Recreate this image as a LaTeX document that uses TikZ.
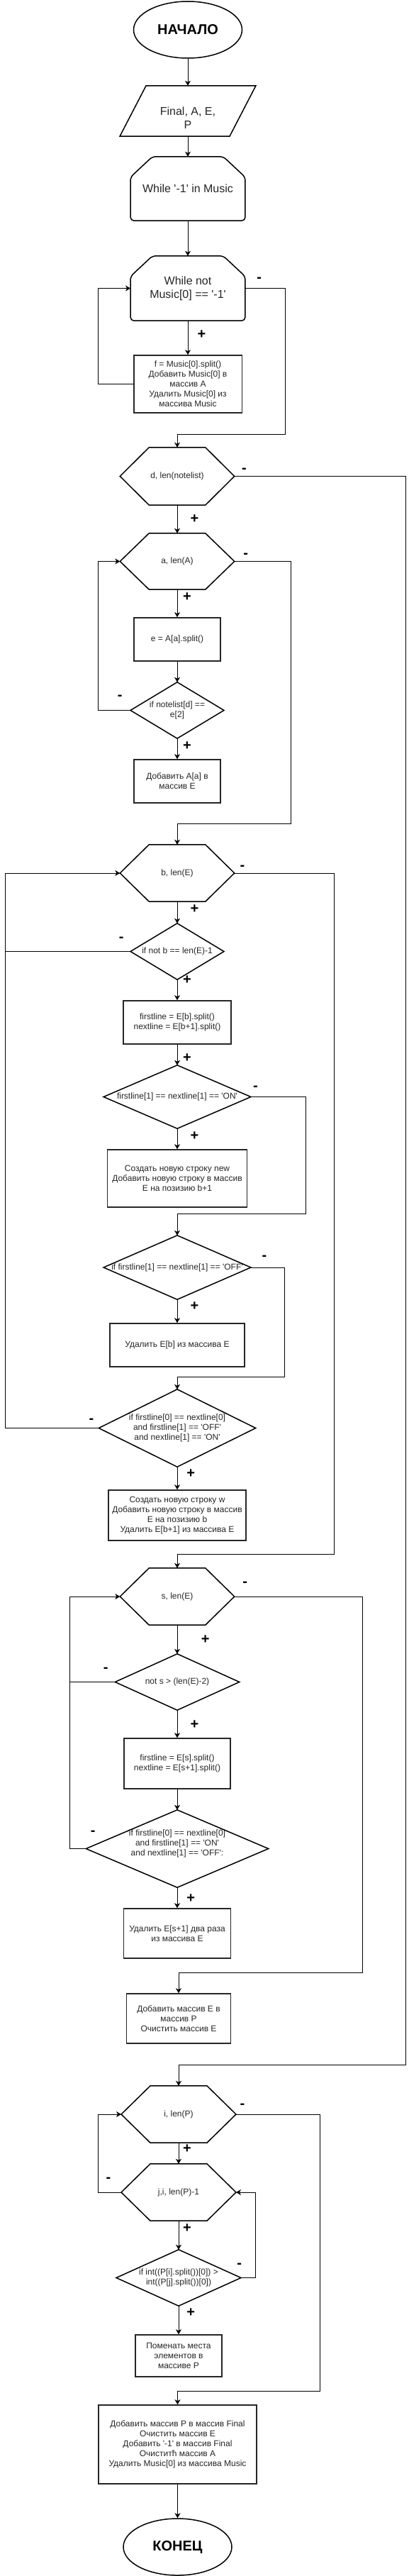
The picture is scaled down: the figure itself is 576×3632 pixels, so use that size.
\documentclass[tikz,border=0pt]{standalone}
\usepackage{fontspec}
\setmainfont{Liberation Sans}
\usetikzlibrary{shapes.geometric,calc,arrows.meta}
\newcommand\myq{\textquotesingle}
\newcommand\drawhex[1]{\draw[shp] (#1.west) -- ($(#1.north west)+(41,0)$) -- ($(#1.north east)+(-41,0)$) -- (#1.east) -- ($(#1.south east)+(-41,0)$) -- ($(#1.south west)+(41,0)$) -- cycle;}
\newcommand\drawdiam[1]{\draw[shp] (#1.west) -- (#1.north) -- (#1.east) -- (#1.south) -- cycle;}
\newcommand\drawloop[1]{\draw[shp,rounded corners=5pt] ($(#1.north west)+(0,29)$) -- ($(#1.north west)+(31,0)$) -- ($(#1.north east)+(-31,0)$) -- ($(#1.north east)+(0,29)$) -- (#1.south east) -- (#1.south west) -- cycle;}
\tikzset{
  shp/.style={draw=black, line width=1.5pt},
  shapebox/.style={rectangle, inner sep=0pt, align=center, text=black!85, font=\fontsize{12}{14}\selectfont},
  procbox/.style={rectangle, draw=black!85, line width=1.6pt, inner sep=0pt, align=center, text=black!85, font=\fontsize{12}{14}\selectfont},
  midtext/.style={font=\fontsize{16}{19}\selectfont},
  bigb/.style={font=\fontsize{20}{24}\selectfont\bfseries},
  conn/.style={line width=1pt, -{Stealth[length=7pt,width=8pt,inset=2pt]}},
  plainline/.style={line width=1pt},
  lbl/.style={font=\fontsize{20}{24}\selectfont\bfseries, inner sep=0pt, text=black},
}
\begin{document}
\begin{tikzpicture}[x=1pt,y=-1pt]
\useasboundingbox (0,0) rectangle (576,3632);
\fill[white] (0,0) rectangle (576,3632);

% ---------- nodes ----------
\node[shp, ellipse, minimum width=153pt, minimum height=80pt, inner sep=0pt, bigb] (start) at (265,42) {НАЧАЛО};
\node[shapebox, minimum width=191.5pt, minimum height=71pt] (inp) at (265,156.5) {};
\node[shapebox, midtext] (inpt) at (265,166) {Final, A, E,\\P};
\node[shapebox, midtext, minimum width=161.5pt, minimum height=90pt] (w1) at (265,266) {While \myq-1\myq{} in Music};
\node[shapebox, midtext, minimum width=161.5pt, minimum height=91pt] (w2) at (265,406.5) {While not\\Music[0] == \myq-1\myq};
\node[procbox, minimum width=152.6pt, minimum height=81pt] (b1) at (265,541.5) {f = Music[0].split()\\Добавить Music[0] в\\массив A\\Удалить Music[0] из\\массива Music};

\node[shapebox, minimum width=161pt, minimum height=81pt] (hd) at (250,671.5) {d, len(notelist)};
\node[shapebox, minimum width=161pt, minimum height=79pt] (ha) at (250,791.5) {a, len(A)};
\node[procbox, minimum width=122pt, minimum height=61pt] (b2) at (250,901.5) {e = A[a].split()};
\node[shapebox, minimum width=131.5pt, minimum height=79pt] (d1) at (250,1001.5) {if notelist[d] ==\\e[2]};
\node[procbox, minimum width=122pt, minimum height=61pt] (b3) at (250,1101.5) {Добавить A[a] в\\массив E};

\node[shapebox, minimum width=161pt, minimum height=80pt] (hb) at (250,1231) {b, len(E)};
\node[shapebox, minimum width=131.5pt, minimum height=79pt] (d2) at (250,1341.5) {if not b == len(E)-1};
\node[procbox, minimum width=152pt, minimum height=61pt] (b4) at (250,1441.5) {firstline = E[b].split()\\nextline = E[b+1].split()};
\node[shapebox, minimum width=207.4pt, minimum height=89pt] (d3) at (250,1546.5) {firstline[1] == nextline[1] == \myq ON\myq};
\node[procbox, minimum width=197pt, minimum height=81pt] (b5) at (250,1661.5) {Создать новую строку new\\Добавить новую строку в массив\\Е на позизию b+1};
\node[shapebox, minimum width=207.4pt, minimum height=90pt] (d4) at (250,1787) {if firstline[1] == nextline[1] == \myq OFF\myq};
\node[procbox, minimum width=190pt, minimum height=61pt] (b6) at (250,1896.5) {Удалить E[b] из массива E};
\node[shapebox, minimum width=221pt, minimum height=109pt] (d5) at (250,2013.5) {if firstline[0] == nextline[0]\\and firstline[1] == \myq OFF\myq\\ and nextline[1] == \myq ON\myq};
\node[procbox, minimum width=194.5pt, minimum height=71pt] (b7) at (250,2136.5) {Создать новую строку w\\Добавить новую строку в массив\\Е на позизию b\\Удалить E[b+1] из массива E};

\node[shapebox, minimum width=161pt, minimum height=80pt] (hs) at (250,2251) {s, len(E)};
\node[shapebox, minimum width=175pt, minimum height=79pt] (d6) at (250,2371.5) {not s > (len(E)-2)};
\node[procbox, minimum width=149.6pt, minimum height=71pt] (b8) at (250,2486.5) {firstline = E[s].split()\\nextline = E[s+1].split()};
\node[shapebox, minimum width=257pt, minimum height=109pt] (d7) at (250,2606.5) {};
\node[shapebox] (d7t) at (250,2599) {if firstline[0] == nextline[0]\\and firstline[1] == \myq ON\myq\\ and nextline[1] == \myq OFF\myq:};
\node[procbox, minimum width=150.8pt, minimum height=70pt] (b9) at (250,2726) {Удалить E[s+1] два раза\\из массива E};
\node[procbox, minimum width=146.7pt, minimum height=70pt] (b10) at (252,2846) {Добавить массив E в\\массив P\\Очистить массив E};

\node[shapebox, minimum width=161.5pt, minimum height=80pt] (hi) at (252,2981) {i, len(P)};
\node[shapebox, minimum width=161.5pt, minimum height=80pt] (hj) at (252,3091) {j,i, len(P)-1};
\node[shapebox, minimum width=175.6pt, minimum height=79pt] (d8) at (252,3211.5) {if int((P[i].split())[0]) >\\int((P[j].split())[0])};
\node[procbox, minimum width=122pt, minimum height=59pt] (b11) at (252,3321.5) {Поменать места\\элементов в\\массиве P};
\node[procbox, minimum width=222.6pt, minimum height=111pt] (b12) at (250.5,3446.5) {Добавить массив P в массив Final\\Очистить массив E\\Добавить \myq-1\myq{} в массив Final\\Очиститћ массив А\\Удалить Music[0] из массива Music};
\node[shp, ellipse, minimum width=153pt, minimum height=80pt, inner sep=0pt, bigb] (finish) at (250.5,3591) {КОНЕЦ};

% ---------- outlines ----------
\draw[shp] ($(inp.north west)+(37,0)$) -- (inp.north east) -- ($(inp.south east)+(-37,0)$) -- (inp.south west) -- cycle;
\drawloop{w1}
\drawloop{w2}
\drawhex{hd}
\drawhex{ha}
\drawhex{hb}
\drawhex{hs}
\drawhex{hi}
\drawhex{hj}
\drawdiam{d1}
\drawdiam{d2}
\drawdiam{d3}
\drawdiam{d4}
\drawdiam{d5}
\drawdiam{d6}
\drawdiam{d7}
\drawdiam{d8}

% ---------- corner coordinates ----------
\coordinate (c1) at (402,612);
\coordinate (c2) at (138.5,541.5);
\coordinate (c3) at (572,2911);
\coordinate (c4) at (410,1161);
\coordinate (c5) at (138.5,1001.5);
\coordinate (c6) at (471,2191);
\coordinate (c7) at (7.4,1341.5);
\coordinate (c8) at (431,1711);
\coordinate (c9) at (401,1941);
\coordinate (c10) at (7.4,2013.5);
\coordinate (c11) at (511.5,2781);
\coordinate (c12) at (98,2371.5);
\coordinate (c13) at (98,2606.5);
\coordinate (c14) at (451,3371);
\coordinate (c15) at (138.5,3091);
\coordinate (c16) at (360,3211.5);

% ---------- straight connectors ----------
\draw[conn] (start.south) -- (inp.north);
\draw[conn] (inp.south) -- (w1.north);
\draw[conn] (w1.south) -- (w2.north);
\draw[conn] (w2.south) -- (b1.north);
\draw[conn] (hd.south) -- (ha.north);
\draw[conn] (ha.south) -- (b2.north);
\draw[conn] (b2.south) -- (d1.north);
\draw[conn] (d1.south) -- (b3.north);
\draw[conn] (hb.south) -- (d2.north);
\draw[conn] (d2.south) -- (b4.north);
\draw[conn] (b4.south) -- (d3.north);
\draw[conn] (d3.south) -- (b5.north);
\draw[conn] (d4.south) -- (b6.north);
\draw[conn] (d5.south) -- (b7.north);
\draw[conn] (hs.south) -- (d6.north);
\draw[conn] (d6.south) -- (b8.north);
\draw[conn] (b8.south) -- (d7.north);
\draw[conn] (d7.south) -- (b9.north);
\draw[conn] (hi.south) -- (hj.north);
\draw[conn] (hj.south) -- (d8.north);
\draw[conn] (d8.south) -- (b11.north);
\draw[conn] (b12.south) -- (finish.north);

% ---------- routed connectors ----------
\draw[conn] (w2.east) -| (c1) -| (hd.north);
\draw[conn] (b1.west) -- (c2) |- (w2.west);
\draw[conn] (hd.east) -| (c3) -| (hi.north);
\draw[conn] (ha.east) -| (c4) -| (hb.north);
\draw[conn] (d1.west) -- (c5) |- (ha.west);
\draw[conn] (hb.east) -| (c6) -| (hs.north);
\draw[plainline] (d2.west) -- (c7);
\draw[conn] (d3.east) -| (c8) -| (d4.north);
\draw[conn] (d4.east) -| (c9) -| (d5.north);
\draw[conn] (d5.west) -- (c10) |- (hb.west);
\draw[conn] (hs.east) -| (c11) -| (b10.north);
\draw[plainline] (d6.west) -- (c12);
\draw[conn] (d7.west) -- (c13) |- (hs.west);
\draw[conn] (hi.east) -| (c14) -| (b12.north);
\draw[conn] (hj.west) -- (c15) |- (hi.west);
\draw[conn] (d8.east) -- (c16) |- (hj.east);

% ---------- + / - labels ----------
\node[lbl] (p1) at (284.4,472) {+};
\node[lbl] (p2) at (274.4,732) {+};
\node[lbl] (p3) at (264,842) {+};
\node[lbl] (p4) at (264,1052) {+};
\node[lbl] (p5) at (274.4,1282) {+};
\node[lbl] (p6) at (264,1382) {+};
\node[lbl] (p7) at (264,1492) {+};
\node[lbl] (p8) at (274.4,1602) {+};
\node[lbl] (p9) at (274.4,1842) {+};
\node[lbl] (p10) at (269.3,2078) {+};
\node[lbl] (p11) at (289.6,2312) {+};
\node[lbl] (p12) at (274.4,2432) {+};
\node[lbl] (p13) at (269.3,2677) {+};
\node[lbl] (p14) at (264,3030) {+};
\node[lbl] (p15) at (264,3142) {+};
\node[lbl] (p16) at (269.3,3261) {+};

\node[lbl] (m1) at (365.6,394) {-};
\node[lbl] (m2) at (344.4,663) {-};
\node[lbl] (m3) at (346.7,783) {-};
\node[lbl] (m4) at (169.3,983) {-};
\node[lbl] (m5) at (341.9,1223) {-};
\node[lbl] (m6) at (171.1,1324) {-};
\node[lbl] (m7) at (360.4,1534) {-};
\node[lbl] (m8) at (373,1773) {-};
\node[lbl] (m9) at (128.9,2003) {-};
\node[lbl] (m10) at (345.6,2233) {-};
\node[lbl] (m11) at (149.3,2354) {-};
\node[lbl] (m12) at (131.1,2584) {-};
\node[lbl] (m13) at (341.9,2969) {-};
\node[lbl] (m14) at (153,3073) {-};
\node[lbl] (m15) at (337.8,3194) {-};
\end{tikzpicture}
\end{document}
